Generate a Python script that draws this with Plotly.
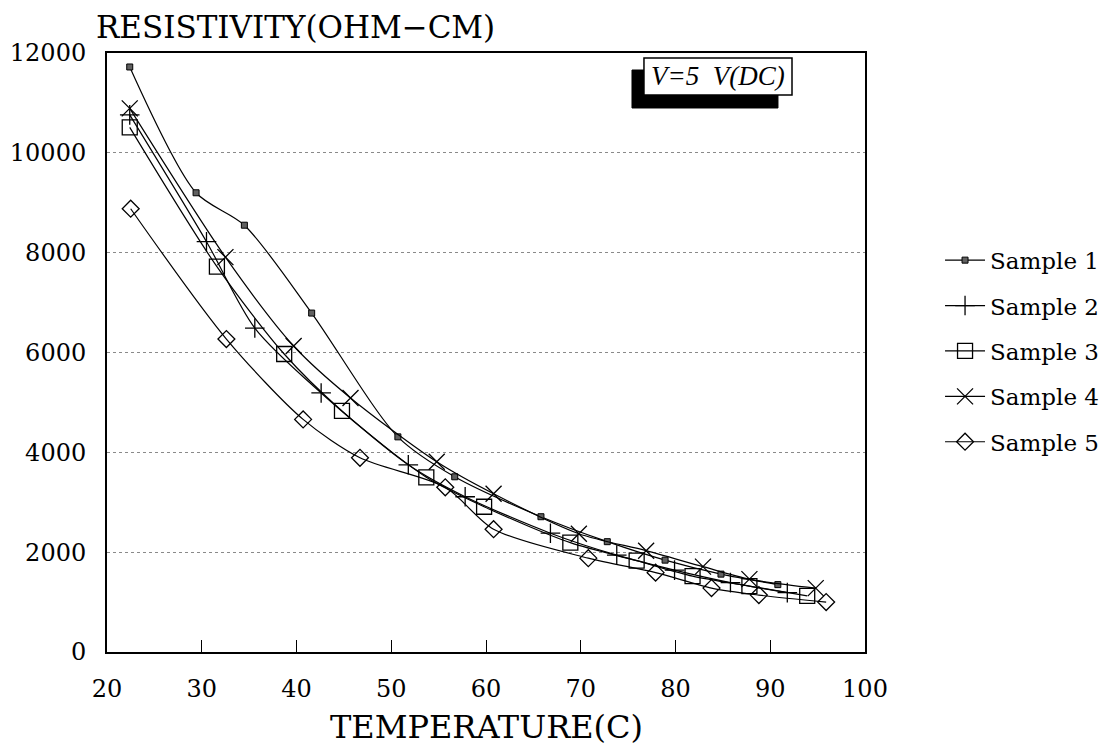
import plotly.graph_objects as go

# ---- data ----
names = ["Sample 1", "Sample 2", "Sample 3", "Sample 4", "Sample 5"]

s1_x = [22.4, 29.4, 34.5, 41.6, 50.7, 56.7, 65.8, 72.8, 78.9, 84.8, 90.8]
s1_y = [11720, 9200, 8550, 6790, 4310, 3510, 2710, 2210, 1840, 1560, 1350]

s2_x = [22.4, 30.5, 35.6, 42.6, 51.8, 57.8, 66.8, 73.8, 79.9, 85.8, 91.8]
s2_y = [10760, 8220, 6490, 5190, 3750, 3110, 2380, 1940, 1640, 1390, 1190]

s3_x = [22.4, 31.6, 38.7, 44.8, 53.7, 59.8, 68.9, 75.9, 81.8, 87.8, 93.9]
s3_y = [10510, 7720, 5970, 4830, 3500, 2910, 2190, 1830, 1520, 1320, 1125]

s4_x = [22.4, 32.5, 39.7, 45.7, 54.8, 60.8, 69.8, 76.9, 82.9, 87.8, 94.8]
s4_y = [10890, 7910, 6130, 5090, 3810, 3170, 2370, 2030, 1710, 1460, 1280]

s5_x = [22.5, 32.6, 40.7, 46.7, 55.7, 60.8, 70.8, 77.9, 83.8, 88.8, 95.9]
s5_y = [8880, 6270, 4660, 3890, 3300, 2460, 1880, 1590, 1280, 1140, 1000]

x_ticks = [20, 30, 40, 50, 60, 70, 80, 90, 100]
y_ticks = [0, 2000, 4000, 6000, 8000, 10000, 12000]

y_title = "RESISTIVITY(OHM\u2212CM)"
x_title = "TEMPERATURE(C)"
note_text = "V=5  V(DC)"

# ---- styles ----
SERIF = "DejaVu Serif"
marker_styles = [
    dict(symbol="square", size=6, color="#606060", line=dict(color="black", width=1)),
    dict(symbol="cross-thin-open", size=14, color="black", line=dict(color="black", width=1.3)),
    dict(symbol="square-open", size=15, color="black", line=dict(color="black", width=1.3)),
    dict(symbol="x-thin-open", size=16, color="black", line=dict(color="black", width=1.3)),
    dict(symbol="diamond-open", size=13, color="black", line=dict(color="black", width=1.3)),
]

series = [(s1_x, s1_y), (s2_x, s2_y), (s3_x, s3_y), (s4_x, s4_y), (s5_x, s5_y)]

fig = go.Figure()
for i, (name, (xs, ys)) in enumerate(zip(names, series)):
    fig.add_trace(go.Scatter(
        x=xs, y=ys, name=name, mode="lines+markers",
        line=dict(color="black", width=1.2, shape="spline", smoothing=0.8),
        marker=marker_styles[i],
        legendgroup=f"g{i}",
    ))

fig.update_layout(
    width=1099, height=739,
    margin=dict(l=99, r=242, t=45, b=95, autoexpand=False),
    paper_bgcolor="white", plot_bgcolor="white",
    font=dict(family=SERIF, color="black"),
    showlegend=True,
    legend=dict(
        x=1.099, xanchor="left", y=0.69, yanchor="top",
        font=dict(family=SERIF, size=23, color="black"),
        tracegroupgap=12.5, itemwidth=40, bgcolor="rgba(0,0,0,0)",
    ),
    xaxis=dict(
        range=[20, 100], tickvals=x_ticks, ticks="inside", ticklen=12,
        tickwidth=1, tickcolor="black", showline=True, mirror=True,
        linecolor="black", linewidth=2, showgrid=False, zeroline=False,
        tickfont=dict(family=SERIF, size=24, color="black"),
        ticklabelstandoff=14,
    ),
    yaxis=dict(
        range=[0, 12000], tickvals=y_ticks, tickformat="d", ticks="",
        showline=True, mirror=True, linecolor="black", linewidth=2,
        showgrid=True, gridcolor="#8a8a8a", gridwidth=1, griddash="dot",
        zeroline=False,
        tickfont=dict(family=SERIF, size=24, color="black"),
        ticklabelstandoff=14,
    ),
)

# axis titles as free text (as placed in the original)
fig.add_annotation(xref="paper", yref="paper", x=-0.017, y=1.044,
                   xanchor="left", yanchor="middle", showarrow=False,
                   text=y_title, font=dict(family=SERIF, size=31, color="black"))
fig.add_annotation(xref="paper", yref="paper", x=0.5, y=-0.125,
                   xanchor="center", yanchor="middle", showarrow=False,
                   text=x_title, font=dict(family=SERIF, size=32, color="black"))

# boxed note with black drop shadow
fig.add_shape(type="rect", xref="paper", yref="paper",
              x0=0.6926, x1=0.8852, y0=0.9082, y1=0.9716,
              fillcolor="black", line=dict(color="black", width=1))
fig.add_shape(type="rect", xref="paper", yref="paper",
              x0=0.7084, x1=0.9037, y0=0.9299, y1=0.9917,
              fillcolor="white", line=dict(color="black", width=1.5))
fig.add_annotation(xref="paper", yref="paper", x=0.806, y=0.9608,
                   xanchor="center", yanchor="middle", showarrow=False,
                   text="<i>" + note_text + "</i>",
                   font=dict(family="Liberation Serif", size=27, color="black"))

fig.write_html("out.html")
